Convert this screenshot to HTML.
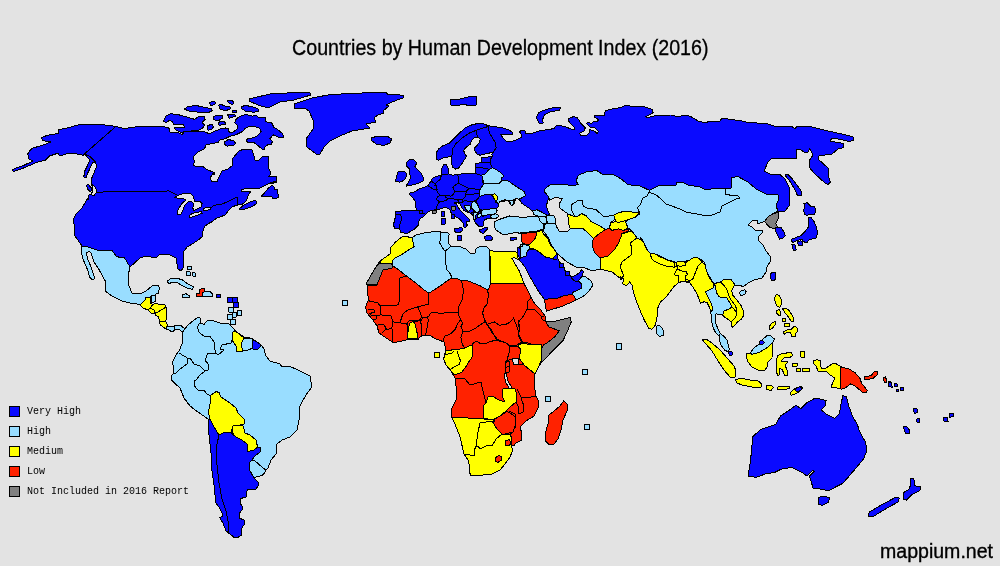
<!DOCTYPE html>
<html><head><meta charset="utf-8"><title>Countries by Human Development Index (2016)</title>
<style>
html,body{margin:0;padding:0;background:#e3e3e3;}
body{width:1000px;height:566px;overflow:hidden;position:relative;}
svg{position:absolute;left:0;top:0;display:block}
.map polygon,.map polyline{stroke:#000;stroke-width:1;stroke-linejoin:round;shape-rendering:crispEdges}
.ttl{font-family:"Liberation Sans",sans-serif;font-size:21.7px;fill:#000;stroke:#000;stroke-width:0.3px}
.lg{font-family:"Liberation Mono",monospace;font-size:10px;fill:#000;}
.site{font-family:"Liberation Sans",sans-serif;font-size:19.5px;fill:#000;stroke:#000;stroke-width:0.35px}
</style></head><body>
<svg width="1000" height="566" viewBox="0 0 1000 566">
<rect width="1000" height="566" fill="#e3e3e3"/>
<g class="map">
<polygon fill="#0a0aff" points="12.4,170.2 14.1,168.8 24.0,165.2 33.2,161.0 29.0,158.9 27.6,153.9 31.8,148.3 42.4,145.4 50.9,141.9 42.4,140.5 41.7,137.7 46.6,135.5 58.7,133.4 58.7,129.6 67.8,127.8 80.6,124.2 98.9,124.2 115.9,126.4 124.0,128.6 138.0,126.6 152.0,126.0 164.4,126.9 169.2,128.2 170.0,132.2 178.8,132.7 182.0,134.6 184.4,131.7 198.0,131.1 206.0,132.2 209.2,133.8 214.0,131.4 220.4,129.0 225.2,127.9 228.4,129.0 229.2,132.2 231.6,133.0 237.2,129.0 237.7,125.8 234.8,122.6 236.4,118.6 242.0,115.4 246.0,114.6 252.4,116.2 256.4,115.4 258.8,117.8 265.2,117.8 266.0,121.8 271.6,122.6 274.0,127.4 278.0,129.8 282.8,133.8 283.6,137.0 279.6,137.8 273.2,134.9 270.0,138.6 272.4,141.8 270.8,145.0 268.4,144.5 265.2,146.6 264.4,149.8 262.0,149.0 257.2,145.0 254.0,142.6 248.4,142.6 246.0,141.0 247.6,138.6 254.0,137.8 258.8,134.6 261.2,131.4 259.6,128.2 255.6,126.9 248.4,126.9 245.2,128.2 242.8,131.4 236.4,134.6 230.0,136.2 225.2,138.6 219.6,140.2 218.0,142.6 212.4,143.4 206.0,145.0 204.4,149.0 198.0,152.2 194.0,156.2 193.5,159.4 194.8,161.8 192.9,165.0 196.4,166.6 202.8,166.3 206.0,169.0 213.2,172.2 214.0,174.9 214.0,172.0 210.0,178.0 212.0,181.6 217.0,181.6 219.0,177.0 222.0,171.0 228.0,169.0 232.0,166.0 233.0,158.0 239.0,151.0 244.0,149.0 252.0,150.0 254.0,156.0 255.0,160.0 259.0,160.0 263.0,156.0 268.0,156.0 268.0,166.0 271.0,174.0 268.0,177.0 276.0,176.0 277.0,182.0 270.0,184.0 276.6,180.7 270.2,182.8 264.6,185.6 258.9,188.4 242.0,189.1 241.7,192.0 250.5,191.7 248.3,195.5 246.2,200.7 242.7,204.0 237.5,205.0 232.1,206.8 228.6,210.3 225.7,214.6 220.8,216.7 216.5,218.1 212.3,221.6 208.1,223.8 204.5,226.6 203.1,230.1 202.4,236.5 198.2,240.0 191.8,244.3 186.9,247.1 184.0,251.3 183.7,255.0 183.0,255.0 183.0,268.0 181.0,271.0 178.0,269.0 176.0,258.0 170.0,255.0 160.0,254.0 156.0,258.0 146.0,256.0 140.0,258.0 130.0,267.0 124.0,257.0 120.0,257.6 116.0,256.0 112.0,250.4 100.0,251.0 88.0,247.0 82.0,246.0 75.0,236.0 73.6,219.0 76.0,214.0 82.0,208.0 88.0,198.0 88.3,200.0 89.0,194.9 91.9,193.5 93.3,189.3 91.9,185.0 91.2,179.4 93.3,174.4 96.5,166.6 95.8,162.4 92.6,162.4 90.5,167.3 87.6,173.4 86.2,177.7 83.8,176.8 84.8,170.9 87.6,165.2 89.8,160.3 84.8,153.9 83.4,155.3 76.3,153.9 66.4,153.9 59.4,156.0 58.0,153.2 49.5,156.0 45.2,160.3 36.7,162.4 25.4,167.3 14.8,171.2 12.4,170.9"/>
<polyline fill="none" points="115.9,126.4 84.8,153.6 90.5,157.0 95.8,162.1"/>
<polygon fill="#0a0aff" points="86.5,185.3 88.3,184.3 91.2,187.8 91.9,190.7 89.8,191.4 87.6,189.3"/>
<polygon fill="#e3e3e3" points="91.6,183.9 95.8,187.8 96.7,192.1 94.0,195.6 90.7,194.6 92.6,191.4 92.6,187.8"/>
<polyline fill="none" points="96.8,192.1 168.0,191.0 167.8,190.5 174.1,193.4 177.7,195.5"/>
<polyline fill="none" points="210.9,207.8 213.7,205.4 222.2,204.0 230.7,200.4 234.9,197.9 237.5,197.3 237.5,204.7"/>
<polygon fill="#e3e3e3" points="174.8,197.3 179.1,194.8 185.4,193.1 190.4,193.1 193.2,196.2 194.6,201.1 199.6,201.1 202.1,203.3 201.0,206.8 197.5,208.9 193.9,210.3 192.8,208.2 193.6,204.0 191.8,201.6 188.3,201.9 184.7,205.4 182.6,211.0 180.5,214.6 177.7,214.9 177.7,211.0 179.8,206.8 182.6,202.6 186.1,200.2 183.3,198.3 178.4,198.3"/>
<polygon fill="#e3e3e3" points="189.7,215.3 192.5,213.2 201.0,211.7 202.4,213.2 198.9,214.6 191.8,217.1 189.7,217.1"/>
<polygon fill="#e3e3e3" points="203.1,208.9 207.3,207.2 210.6,207.2 210.9,208.9 207.3,210.3 203.5,211.0"/>
<polygon fill="#0a0aff" points="239.2,208.9 243.4,205.4 249.0,202.6 254.0,200.4 256.8,201.1 256.1,204.0 251.9,206.8 244.8,209.2 239.9,209.6"/>
<polygon fill="#0a0aff" points="261.1,196.2 264.6,192.7 268.8,187.7 271.7,185.6 273.8,186.3 274.5,189.1 277.3,189.8 278.0,194.1 278.4,197.9 272.4,198.3 271.7,196.2 267.4,196.2"/>
<polygon fill="#0a0aff" points="249.0,99.0 270.0,94.0 294.0,92.6 310.0,92.6 311.0,95.0 294.0,100.0 280.0,102.0 268.0,108.0 258.0,105.0 249.0,101.0"/>
<polygon fill="#0a0aff" points="224.4,141.8 228.4,139.4 234.0,141.0 235.6,143.4 233.2,145.5 226.8,146.1 224.4,144.2"/>
<polygon fill="#0a0aff" points="184.4,109.0 187.6,106.6 196.4,105.5 204.4,107.4 211.6,108.7 212.4,110.6 209.2,112.2 198.0,112.2 188.4,110.9"/>
<polygon fill="#0a0aff" points="163.6,121.0 166.0,116.2 170.8,113.8 178.0,114.6 186.8,117.0 194.8,119.4 198.0,117.0 204.4,116.7 205.2,119.4 202.0,122.6 204.4,125.0 202.8,127.9 198.0,130.6 183.6,131.4 182.0,133.0 175.6,129.8 174.0,127.9 184.4,127.4 183.6,125.0 174.0,124.7 172.4,121.5 169.2,120.5 166.0,122.6"/>
<polygon fill="#0a0aff" points="209.5,102.6 213.2,101.0 215.6,102.3 214.8,104.5 210.8,105.5"/>
<polygon fill="#0a0aff" points="227.1,100.7 232.4,100.2 233.5,102.6 232.9,104.5 229.2,103.4"/>
<polygon fill="#0a0aff" points="218.8,105.0 221.2,104.2 223.6,105.8 230.0,106.6 230.8,108.7 226.8,110.3 220.4,109.8"/>
<polygon fill="#0a0aff" points="232.4,110.3 236.7,110.3 236.7,112.5 232.4,112.5"/>
<polygon fill="#0a0aff" points="241.5,106.6 245.2,105.5 252.4,106.6 258.0,109.0 258.5,111.4 254.0,112.2 246.0,111.4 242.0,109.0"/>
<polygon fill="#0a0aff" points="213.2,116.2 222.0,115.4 222.8,117.8 218.8,120.5 214.0,119.9"/>
<polygon fill="#0a0aff" points="227.6,114.6 234.8,114.1 235.6,116.2 229.2,118.3"/>
<polygon fill="#0a0aff" points="218.5,122.1 224.9,121.5 225.2,124.2 219.1,125.3"/>
<polygon fill="#0a0aff" points="207.6,125.8 211.6,124.2 213.7,126.6 211.6,129.8 207.9,130.1"/>
<polygon fill="#0a0aff" points="294.0,104.0 312.0,98.0 330.0,94.6 352.0,93.4 372.0,92.6 386.0,92.6 388.0,94.6 400.0,95.0 400.0,95.0 404.0,96.0 403.0,98.0 400.0,98.6 400.0,99.0 392.0,102.0 386.0,105.0 389.0,106.0 383.0,111.0 384.0,113.0 378.0,115.0 374.0,118.0 376.0,122.0 366.0,124.0 370.0,128.0 352.0,131.0 340.0,136.0 330.0,141.0 324.0,147.0 320.0,154.0 316.0,154.0 307.0,147.0 306.0,139.0 313.0,129.0 314.0,122.0 309.0,111.0 306.0,109.0 294.0,108.0"/>
<polygon fill="#0a0aff" points="371.0,138.0 376.0,136.6 388.0,136.6 391.6,139.0 390.0,143.0 384.0,145.4 377.0,144.6 372.0,141.0"/>
<polygon fill="#99ddff" points="82.0,246.0 88.0,247.0 100.0,251.0 112.0,250.4 116.0,256.0 120.0,257.6 124.0,257.0 130.0,267.0 128.0,276.0 129.0,286.0 132.0,293.0 140.0,294.0 146.0,291.0 152.0,286.0 158.0,285.0 159.6,288.0 158.0,294.0 157.0,293.0 155.0,295.0 151.0,295.6 150.4,297.6 146.0,297.6 145.0,300.0 140.0,305.0 137.0,304.0 130.0,303.0 122.0,301.0 112.0,296.0 105.0,291.0 106.0,284.0 105.6,281.7 102.4,275.8 98.9,269.4 94.1,262.3 92.1,255.9 90.9,252.3 88.9,251.5 86.9,252.3 86.5,254.3 87.7,259.1 90.1,264.7 92.1,270.2 94.1,276.6 94.1,279.0 91.7,279.4 89.7,277.4 88.1,271.0 85.3,264.7 83.0,259.1 81.4,251.9 81.8,247.6"/>
<polygon fill="#99ddff" points="151.0,295.6 155.0,295.0 155.0,301.6 151.0,303.0"/>
<polygon fill="#ffff00" points="140.0,305.0 145.0,300.0 146.0,297.6 150.4,297.6 150.4,303.0 153.0,304.4 150.0,308.0 148.0,310.0 143.0,308.0"/>
<polygon fill="#ffff00" points="148.0,310.0 150.0,308.0 154.0,310.0 155.0,313.0 151.0,313.0"/>
<polygon fill="#ffff00" points="153.0,304.4 155.0,303.6 165.0,305.0 166.0,307.0 158.0,312.0 155.0,313.0 154.0,310.0 150.0,308.0"/>
<polygon fill="#ffff00" points="166.0,307.0 167.0,318.0 165.6,321.0 167.6,325.6 166.8,329.2 163.6,327.6 160.0,324.4 159.4,321.0 158.6,317.0 155.6,315.0 155.0,313.0 158.0,312.0"/>
<polyline fill="none" points="159.6,321.0 165.6,321.0"/>
<polygon fill="#99ddff" points="167.0,326.4 174.0,326.0 180.0,325.0 184.0,328.0 185.0,333.0 182.0,332.0 179.0,329.0 175.0,330.0 172.0,332.0 169.0,330.0 166.0,329.0"/>
<polyline fill="none" points="174.4,326.0 175.0,330.0"/>
<polygon fill="#99ddff" points="167.0,281.6 170.0,279.0 177.0,278.4 182.0,279.6 188.0,284.0 193.6,287.0 192.4,289.4 188.0,288.4 182.0,285.6 177.0,282.4 172.0,282.4 169.0,283.6"/>
<polygon fill="#99ddff" points="182.4,295.0 186.0,293.6 189.6,296.0 189.0,297.6 183.0,297.6"/>
<polygon fill="#ff2200" points="196.0,294.0 200.0,293.6 199.6,290.0 202.0,288.4 204.4,289.0 204.0,292.0 202.4,293.0 202.4,296.0 200.0,297.0 196.0,296.4"/>
<polygon fill="#99ddff" points="204.0,292.0 209.0,291.0 213.0,294.0 212.4,296.4 202.4,296.4 202.4,293.0"/>
<polygon fill="#0a0aff" points="216.4,294.0 220.6,294.0 220.6,297.4 216.4,297.4"/>
<polygon fill="#0a0aff" points="227.4,297.4 232.4,297.4 232.4,302.0 227.4,302.0"/>
<polygon fill="#0a0aff" points="232.4,297.4 237.6,297.4 237.6,302.0 232.4,302.0"/>
<polygon fill="#0a0aff" points="233.6,302.4 238.4,302.4 238.4,307.6 233.6,307.6"/>
<polygon fill="#99ddff" points="228.6,307.6 233.4,307.6 233.4,312.0 228.6,312.0"/>
<polygon fill="#99ddff" points="232.4,312.4 236.4,312.4 236.4,317.0 232.4,317.0"/>
<polygon fill="#99ddff" points="237.0,310.4 241.6,310.4 241.6,315.6 237.0,315.6"/>
<polygon fill="#99ddff" points="227.4,314.4 232.4,314.4 232.4,319.0 227.4,319.0"/>
<polygon fill="#99ddff" points="230.4,319.6 235.6,319.6 235.6,324.4 230.4,324.4"/>
<polygon fill="#99ddff" points="187.0,267.0 191.6,266.4 192.0,269.0 188.0,269.6"/>
<polygon fill="#99ddff" points="186.0,272.0 190.0,271.6 191.0,275.0 187.0,275.6"/>
<polygon fill="#99ddff" points="192.4,272.4 195.0,273.0 195.6,276.0 193.0,276.0"/>
<polygon fill="#99ddff" points="342.4,300.4 347.6,300.4 347.6,305.6 342.4,305.6"/>
<polygon fill="#99ddff" points="182.0,333.0 185.0,329.0 188.0,325.0 194.0,320.0 198.0,317.6 200.0,318.0 200.0,323.0 204.0,324.4 208.0,320.0 214.0,321.0 220.0,323.0 228.0,323.0 233.0,328.0 236.0,331.6 244.0,337.0 252.0,338.4 260.0,344.0 262.0,346.0 264.0,349.0 266.0,356.0 270.0,361.0 280.0,364.0 282.0,367.0 290.0,366.4 300.0,371.0 310.0,376.0 312.0,387.0 308.0,392.0 303.0,400.0 300.0,406.0 299.0,420.0 297.0,430.0 290.0,437.0 282.0,440.0 277.0,444.0 276.0,454.0 271.0,460.0 268.0,468.0 265.6,470.0 265.0,472.4 262.0,475.6 256.0,477.0 254.0,478.0 258.0,482.0 259.0,485.0 256.0,489.0 247.0,490.0 247.0,491.0 246.0,497.0 240.4,498.6 240.0,503.0 242.4,506.6 242.0,510.0 239.6,513.0 239.0,518.0 244.0,520.0 244.4,524.0 242.0,528.0 241.0,532.0 241.6,535.0 238.0,537.4 234.0,537.4 230.0,534.0 226.0,531.0 223.0,523.0 219.6,517.4 222.0,516.6 222.0,513.0 219.0,507.0 215.0,502.0 215.0,495.0 214.0,485.0 212.0,471.0 211.0,453.0 209.6,440.0 208.0,426.0 208.0,419.0 198.0,412.0 190.0,406.0 184.0,398.0 180.0,388.0 172.0,380.0 177.0,386.0 172.0,381.0 171.0,376.0 174.0,373.0 173.6,368.0 172.4,362.0 176.0,355.0 179.0,351.0 182.0,344.0"/>
<polyline fill="none" points="199.6,323.0 197.6,327.0 199.0,332.4 204.0,336.0 210.0,336.4 214.0,342.0 215.0,350.0 216.0,353.0 208.0,353.0 205.0,360.0 208.0,364.0 208.0,370.0 205.0,371.0"/>
<polyline fill="none" points="216.0,353.0 218.0,355.0 224.0,350.0 220.0,349.0 222.0,345.0 231.0,343.0 233.0,338.0"/>
<polyline fill="none" points="179.0,353.0 184.0,356.0 188.0,358.4 187.0,364.0 180.0,369.0 176.0,373.0 174.0,373.0"/>
<polyline fill="none" points="188.0,358.4 190.0,358.0 194.0,364.0 200.0,366.0 205.0,371.0 200.0,375.0 196.0,380.0 195.0,380.0 194.4,386.0 198.0,390.0 204.0,390.4 207.0,394.0 210.0,395.6"/>
<polygon fill="#ffff00" points="233.0,332.0 236.0,331.6 244.0,338.0 241.0,344.0 243.0,351.0 237.0,351.6 236.0,346.0 232.0,340.0"/>
<polygon fill="#99ddff" points="244.0,338.0 252.0,339.0 253.0,348.0 248.0,350.0 243.0,351.0 241.0,344.0"/>
<polygon fill="#0a0aff" points="252.0,339.0 260.0,344.0 261.0,346.0 257.0,350.0 253.0,349.0"/>
<polygon fill="#ffff00" points="210.0,395.6 216.0,391.6 219.0,392.4 221.0,397.0 230.0,403.0 236.0,408.0 238.0,413.0 245.0,420.0 244.4,424.0 238.0,425.6 233.0,426.0 231.0,433.0 224.0,432.4 219.0,435.0 214.0,427.0 210.0,419.0 208.4,412.0 210.0,404.0"/>
<polygon fill="#ffff00" points="233.0,426.0 238.0,425.6 243.0,425.6 245.0,433.0 250.0,435.0 256.0,440.0 257.6,447.0 254.0,450.0 248.0,451.6 247.0,444.0 242.0,440.0 236.0,437.0 232.0,432.4"/>
<polygon fill="#0a0aff" points="219.0,435.0 224.0,432.4 231.0,433.0 236.0,437.0 242.0,440.0 247.0,444.0 248.0,451.6 254.0,450.0 257.6,447.0 260.4,448.0 260.0,452.0 255.0,456.0 252.0,460.0 250.0,462.0 249.6,470.0 254.0,478.0 258.0,482.0 259.0,485.0 256.0,489.0 247.0,490.0 247.0,491.0 246.0,497.0 240.4,498.6 240.0,503.0 242.4,506.6 242.0,510.0 239.6,513.0 239.0,518.0 244.0,520.0 244.4,524.0 242.0,528.0 241.0,532.0 241.6,535.0 238.0,537.4 234.0,537.4 230.0,534.0 228.4,532.0 228.0,521.0 226.0,511.0 222.0,499.0 219.0,483.0 217.0,465.0 216.0,453.0 216.0,456.0 217.0,444.0"/>
<polygon fill="#0a0aff" points="208.0,419.0 210.0,419.0 214.0,427.0 219.0,435.0 217.0,444.0 216.0,456.0 216.0,453.0 217.0,465.0 219.0,483.0 222.0,499.0 226.0,511.0 228.0,521.0 228.4,532.0 230.0,534.0 226.0,531.0 223.0,523.0 219.6,517.4 222.0,516.6 222.0,513.0 219.0,507.0 215.0,502.0 215.0,495.0 214.0,485.0 212.0,471.0 211.0,453.0 209.6,440.0 208.0,426.0"/>
<polygon fill="#99ddff" points="252.0,460.0 255.0,461.0 262.0,467.0 265.6,470.0 265.0,472.4 262.0,475.6 256.0,477.0 254.0,478.0 249.6,470.0 250.0,462.0"/>
<polygon fill="#0a0aff" points="488.3,125.8 492.5,126.4 502.1,127.6 509.3,130.0 512.3,132.4 512.3,134.8 508.1,134.8 500.9,134.8 503.3,138.4 506.9,142.0 514.1,140.8 519.5,138.4 521.9,137.2 521.3,134.2 519.5,131.8 521.3,130.4 524.9,130.6 525.5,133.6 530.9,133.6 538.1,131.2 554.0,128.6 556.4,125.4 563.6,126.2 570.0,128.6 574.0,129.9 574.8,127.8 569.2,122.2 568.4,119.0 573.2,116.6 577.2,117.4 581.2,123.8 585.2,127.8 584.4,131.0 579.6,133.4 581.2,135.8 586.0,135.8 589.2,132.6 589.2,129.4 594.0,131.0 597.2,133.4 598.5,131.5 594.8,127.8 590.0,127.0 586.8,123.8 587.6,122.2 591.6,123.8 593.2,121.4 597.2,121.4 598.8,119.8 594.8,117.4 594.8,115.5 600.4,115.8 604.4,115.5 605.2,111.0 610.0,109.4 619.6,107.8 626.0,105.4 634.0,106.5 645.2,107.0 652.4,109.4 653.2,112.6 646.0,116.6 646.8,117.7 656.4,115.5 670.8,115.0 677.2,116.6 683.6,115.5 690.0,116.1 691.0,116.6 698.0,121.0 706.0,123.0 709.0,121.0 720.0,121.0 722.0,118.0 730.0,119.4 740.0,120.6 748.0,122.6 766.0,123.4 774.0,126.0 792.0,126.6 795.0,129.0 797.0,126.0 800.0,126.0 800.0,126.0 812.0,127.0 830.0,131.4 846.0,135.0 853.0,136.6 853.6,140.6 849.0,141.4 840.0,139.4 832.0,138.0 830.0,141.0 843.0,143.4 844.0,147.4 838.0,149.0 832.0,154.0 819.0,156.0 818.0,159.0 828.0,168.0 829.0,178.0 830.4,182.0 828.0,184.6 825.0,183.0 814.0,173.0 809.0,167.0 809.0,161.0 813.0,155.0 810.0,148.6 808.0,152.0 804.0,152.0 800.0,149.4 800.0,149.0 796.0,150.0 797.0,158.0 772.0,158.0 768.0,162.0 764.0,171.0 770.0,174.0 780.0,174.6 785.0,179.0 790.0,189.0 789.0,198.0 789.0,198.0 789.0,206.0 785.0,211.0 781.0,212.0 777.0,211.0 776.0,206.0 779.0,198.0 779.0,198.0 778.0,194.6 768.0,195.0 756.0,189.0 748.0,182.0 738.0,176.6 732.0,177.4 731.0,188.0 725.0,188.6 716.0,188.0 706.0,190.0 700.0,187.0 688.0,185.0 684.0,183.0 677.0,182.0 676.0,185.0 658.0,186.0 649.0,190.6 649.6,190.4 639.2,185.6 628.0,184.8 621.6,179.2 613.6,174.7 602.4,174.4 596.8,170.4 586.4,172.0 578.4,175.2 576.0,180.8 578.4,184.8 570.4,185.6 564.0,184.0 551.2,184.0 544.0,189.6 544.0,191.2 548.0,196.0 548.0,200.0 546.4,205.6 548.0,211.2 549.6,214.4 547.2,215.2 541.6,212.0 536.8,209.6 532.8,211.2 528.8,208.0 521.6,203.2 519.2,199.2 525.3,196.0 524.8,192.0 516.0,186.4 508.0,180.8 501.6,180.8 500.3,183.0 502.1,181.1 501.5,178.1 503.9,176.3 500.9,172.7 495.5,169.1 492.5,167.9 490.1,163.0 490.1,160.0 492.2,156.8 491.9,154.6 493.1,152.2 496.1,148.0 495.5,143.2 492.5,137.8 490.1,134.2 488.9,130.6"/>
<polygon fill="#0a0aff" points="536.4,117.4 538.8,112.6 546.0,109.4 556.4,107.0 560.4,107.8 559.6,110.2 550.8,111.8 544.4,115.0 542.8,119.0 543.1,123.0 538.8,123.0"/>
<polygon fill="#0a0aff" points="450.0,100.0 460.0,99.0 468.0,97.0 476.4,96.6 476.0,105.0 469.0,106.0 464.0,104.0 456.0,106.0 451.0,105.0"/>
<polygon fill="#0a0aff" points="785.3,174.6 787.7,174.0 792.5,179.1 797.2,185.4 801.2,191.0 801.7,195.8 797.6,195.8 794.8,189.4 790.1,181.5 786.1,176.7"/>
<polygon fill="#0a0aff" points="436.6,159.4 436.0,153.4 438.4,149.2 442.0,146.2 449.2,143.2 456.4,136.0 464.8,128.2 470.8,125.2 478.0,123.4 482.9,123.6 487.1,125.2 488.3,125.8 486.5,127.0 476.8,130.0 469.6,133.0 462.4,137.8 455.8,143.8 452.8,148.6 452.2,154.6 451.0,156.4 448.0,157.0 442.0,158.2 438.4,160.4"/>
<polygon fill="#0a0aff" points="452.2,154.6 452.8,148.6 455.8,143.8 462.4,137.8 469.6,133.0 476.2,130.6 477.4,137.2 474.4,137.8 471.4,140.8 470.2,144.4 466.0,147.4 463.6,150.4 464.8,153.4 466.6,156.4 464.2,160.0 462.4,163.0 458.8,167.9 455.2,169.1 452.2,166.7 451.6,161.8 451.0,156.4"/>
<polygon fill="#0a0aff" points="476.8,130.0 486.5,127.0 488.3,125.8 488.9,130.6 490.1,134.2 492.5,137.8 495.5,143.2 496.1,148.0 493.1,152.2 487.7,153.4 480.5,155.2 477.4,154.6 475.0,151.0 474.4,148.0 477.4,145.0 479.8,142.0 480.2,139.0 477.4,137.2 476.2,130.6"/>
<polygon fill="#0a0aff" points="481.7,157.3 492.2,156.8 490.1,160.0 490.1,163.0 481.7,162.4 481.1,160.0"/>
<polygon fill="#0a0aff" points="475.6,163.6 481.7,162.4 490.1,163.0 492.5,167.9 488.9,169.3 482.9,167.9 475.0,166.9"/>
<polygon fill="#0a0aff" points="475.0,167.9 482.9,167.9 488.9,169.3 485.3,173.9 481.7,175.7 475.0,173.3"/>
<polygon fill="#0a0aff" points="442.0,167.9 443.8,164.8 446.2,164.2 448.0,167.9 449.0,173.9 442.0,174.5 441.4,171.5"/>
<polygon fill="#0a0aff" points="409.0,193.2 413.2,192.6 419.2,189.0 425.8,186.6 427.6,185.4 431.2,181.2 432.4,178.2 438.4,175.8 441.4,175.2 442.6,174.6 448.6,174.0 452.9,175.2 457.7,174.6 464.9,173.4 474.5,174.0 475.0,173.3 481.7,175.7 485.3,173.9 482.3,177.5 482.9,183.0 484.1,183.6 479.9,189.6 479.3,193.2 479.9,196.2 484.1,195.0 491.3,194.4 494.9,199.8 496.1,202.2 497.9,203.4 498.5,206.4 496.1,208.8 492.5,209.4 486.5,211.2 481.7,210.0 479.9,209.4 480.5,212.4 481.7,213.6 482.3,216.7 485.2,215.4 490.0,214.2 490.8,216.2 490.4,218.2 487.6,218.6 484.4,219.8 483.2,222.6 483.2,225.8 481.2,227.0 478.0,225.8 475.2,222.6 474.0,219.8 473.6,217.4 473.2,215.8 471.2,213.6 466.6,211.8 463.4,209.9 461.8,207.6 460.2,204.4 457.6,202.4 454.4,203.0 456.6,204.1 458.0,207.2 460.4,210.5 463.6,213.7 466.6,216.4 469.2,219.2 469.6,221.8 467.2,221.0 466.0,222.6 467.2,225.0 466.4,227.0 464.0,227.0 463.6,224.2 461.2,220.6 458.0,217.8 454.8,216.6 451.6,213.8 450.0,211.8 451.7,213.0 449.8,209.4 446.2,207.6 442.0,208.2 438.4,210.0 436.0,209.4 432.4,210.6 428.8,211.2 425.8,214.2 424.0,216.2 419.2,219.4 418.4,225.0 414.4,229.0 406.4,233.8 400.8,232.2 399.2,228.2 394.4,228.7 393.6,224.2 395.2,217.8 395.2,213.0 396.0,211.4 405.6,210.6 415.2,210.6 416.2,210.0 415.6,202.2 413.2,198.0 410.2,195.6"/>
<polyline fill="none" points="416.2,210.0 419.8,211.2 422.8,213.0 425.8,214.2"/>
<polyline fill="none" points="396.0,214.6 400.8,214.9 401.6,219.4 400.0,224.2 399.2,228.2"/>
<polyline fill="none" points="427.6,185.4 431.2,187.8 434.2,189.6 436.6,190.2 438.4,193.8 440.2,195.0 437.2,197.4 436.6,199.8 439.6,201.6 437.2,205.8 436.0,209.4"/>
<polyline fill="none" points="431.2,181.2 434.2,183.0 436.0,186.0 437.2,189.6 434.2,189.6"/>
<polyline fill="none" points="434.2,186.0 436.6,185.7"/>
<polyline fill="none" points="434.2,183.0 436.0,183.0 440.2,179.4 441.4,175.2"/>
<polyline fill="none" points="440.2,195.0 442.6,195.0 445.6,195.0 450.5,196.2 453.5,194.4 454.7,191.4 452.9,187.8 454.1,186.0 458.3,183.0 458.9,179.4 457.7,174.6"/>
<polyline fill="none" points="458.3,183.0 461.3,184.8 464.9,186.6 469.1,188.4 474.5,189.0 479.9,189.6"/>
<polyline fill="none" points="454.7,191.4 457.7,191.4 462.5,192.0 466.7,190.8 469.1,188.4"/>
<polyline fill="none" points="466.7,190.8 465.5,194.4 469.7,195.0 474.5,193.8 479.3,193.2"/>
<polyline fill="none" points="445.6,195.0 445.6,197.4 448.0,198.6 446.2,200.4 442.0,201.6 439.6,201.6"/>
<polyline fill="none" points="448.0,198.6 451.7,198.0 454.7,199.2 457.7,199.8 462.5,199.8 464.9,197.4 465.5,194.4"/>
<polyline fill="none" points="457.7,199.8 458.9,202.2 463.1,202.2 462.5,199.8"/>
<polyline fill="none" points="463.1,202.2 464.9,199.8 468.5,201.6 472.1,201.6 476.9,199.8 479.9,196.2"/>
<polyline fill="none" points="472.1,201.6 476.9,201.6 476.9,199.8"/>
<polygon fill="#99ddff" points="464.0,205.4 469.2,205.0 471.0,207.0 470.0,209.8 468.4,211.8 466.0,209.4"/>
<polygon fill="#99ddff" points="471.0,203.8 473.2,201.8 476.4,202.2 478.0,205.4 479.2,208.6 480.0,211.0 478.0,212.2 478.4,213.8 476.8,214.2 475.6,212.2 473.2,209.8 471.6,207.8"/>
<polygon fill="#99ddff" points="473.2,213.8 474.0,212.2 476.8,212.2 477.2,213.8 475.6,215.8 475.4,219.0 474.0,219.8 473.6,217.4"/>
<polygon fill="#99ddff" points="477.2,215.8 479.2,213.0 481.6,213.4 482.0,215.4 479.6,217.4 477.6,217.8"/>
<polygon fill="#99ddff" points="480.8,210.6 483.6,209.8 490.0,209.0 496.0,208.2 497.2,211.0 496.0,213.0 493.2,214.2 490.0,214.2 485.2,215.4 482.0,215.0 481.6,213.0"/>
<polygon fill="#99ddff" points="490.8,216.2 493.2,214.2 496.0,213.8 498.0,215.0 498.0,217.0 494.8,219.0 491.6,218.2"/>
<polygon fill="#0a0aff" points="479.2,229.4 482.0,229.0 484.8,227.4 487.6,227.4 487.2,229.4 485.2,231.4 483.6,233.4 481.2,232.6 479.6,231.0"/>
<polyline fill="none" points="470.0,209.8 471.6,208.6 473.2,210.2 473.2,212.2 471.2,213.0"/>
<polyline fill="none" points="475.4,219.0 477.2,218.0 479.6,217.4"/>
<polyline fill="none" points="475.6,212.2 478.0,212.2"/>
<polygon fill="#99ddff" points="488.9,169.3 492.5,167.9 495.5,169.1 500.9,172.7 503.9,176.3 501.5,178.1 502.1,181.1 500.3,183.0 499.7,183.0 492.5,183.0 486.5,183.0 484.1,183.6 482.9,179.4 481.7,175.2 485.3,173.9"/>
<polygon fill="#99ddff" points="484.1,183.6 486.5,183.0 492.5,183.0 499.7,183.0 501.6,180.8 508.0,180.8 516.0,186.4 524.8,192.0 525.3,196.0 519.2,199.2 516.0,198.4 514.4,203.2 511.2,205.6 508.0,200.8 503.2,200.0 500.0,201.6 515.3,199.8 513.5,202.2 512.9,205.8 510.5,204.6 509.9,201.0 504.5,199.8 500.9,201.0 498.5,203.4 496.1,202.2 497.1,199.8 497.3,196.2 494.9,193.8 491.9,194.4 484.1,195.0 479.9,196.2 479.3,193.2 479.9,189.6"/>
<polygon fill="#ffff00" points="491.9,194.4 494.9,193.8 497.3,196.2 497.1,199.8 495.9,202.2 494.9,199.8"/>
<polygon fill="#0a0aff" points="406.0,163.0 409.2,159.8 414.0,159.8 417.2,163.0 414.8,166.2 418.0,170.2 421.2,173.4 423.6,178.2 422.8,181.4 417.2,183.8 410.8,185.4 406.0,186.2 408.4,182.2 410.8,177.4 409.2,172.6 410.0,169.4 406.8,166.2"/>
<polygon fill="#0a0aff" points="395.6,181.4 396.4,176.6 398.0,171.8 402.8,171.0 406.0,172.6 406.0,177.4 403.6,180.6 399.6,182.2"/>
<polygon fill="#0a0aff" points="419.8,210.6 422.6,210.6 422.6,213.6 419.8,213.6"/>
<polygon fill="#808080" points="432.4,210.4 436.0,210.4 436.0,213.0 432.4,213.0"/>
<polygon fill="#808080" points="451.9,206.4 455.3,206.4 455.3,210.0 451.9,210.0"/>
<polygon fill="#0a0aff" points="451.1,214.5 454.7,214.5 454.7,218.5 451.1,218.5"/>
<polygon fill="#0a0aff" points="441.4,211.8 444.7,211.8 444.7,216.1 441.4,216.1"/>
<polygon fill="#0a0aff" points="441.8,218.5 445.0,218.1 445.6,223.9 442.0,224.5"/>
<polygon fill="#0a0aff" points="454.4,228.6 457.2,229.0 460.4,227.4 462.4,228.2 462.0,231.0 459.6,232.6 455.6,232.2 454.2,230.6"/>
<polygon fill="#0a0aff" points="457.4,235.4 461.6,235.4 461.6,240.0 457.4,240.0"/>
<polygon fill="#0a0aff" points="484.4,236.6 487.6,235.4 491.6,236.2 492.8,238.6 491.6,240.0 485.2,240.0"/>
<polygon fill="#0a0aff" points="510.0,238.0 516.0,237.0 517.0,239.6 511.0,240.4"/>
<polygon fill="#99ddff" points="649.0,190.6 658.0,186.0 676.0,185.0 677.0,182.0 684.0,183.0 688.0,185.0 700.0,187.0 706.0,190.0 716.0,188.0 725.0,188.6 731.0,188.0 732.0,177.4 738.0,176.6 748.0,182.0 756.0,189.0 768.0,195.0 778.0,194.6 779.0,198.0 779.0,198.0 776.0,206.0 778.0,211.0 772.0,214.0 765.0,221.0 758.0,224.0 757.0,220.0 753.0,220.0 748.0,225.0 752.0,227.0 755.0,230.0 762.0,230.0 762.0,233.0 758.0,237.0 758.0,240.0 763.0,245.0 766.0,251.0 770.0,256.0 770.0,262.0 767.0,267.0 766.0,272.0 762.0,278.0 754.0,280.0 748.0,283.0 743.0,287.0 740.0,285.0 735.0,286.0 734.0,283.0 730.0,280.0 724.0,280.0 720.0,282.0 714.0,284.0 709.0,276.0 705.0,270.0 706.0,267.0 704.0,262.0 700.0,259.0 694.0,257.6 689.0,260.4 684.0,261.6 677.0,262.0 675.0,262.0 668.0,260.0 658.0,255.0 651.0,254.0 648.0,251.0 643.0,241.0 637.0,238.0 632.0,231.0 628.0,228.0 625.0,223.0 630.0,217.0 640.0,214.0 638.0,209.0 637.0,204.0 641.0,201.0 642.0,198.0 649.6,190.4"/>
<polygon fill="#99ddff" points="544.0,189.6 551.2,184.0 564.0,184.0 570.4,185.6 578.4,184.8 576.0,180.8 578.4,175.2 586.4,172.0 596.8,170.4 602.4,174.4 613.6,174.7 621.6,179.2 628.0,184.8 639.2,185.6 649.6,190.4 647.2,196.0 642.4,198.4 640.8,204.0 637.6,207.2 639.2,212.8 624.8,211.2 618.4,212.8 613.6,215.2 604.0,216.8 596.0,209.6 587.2,208.0 583.2,206.4 582.4,200.8 577.6,200.8 571.2,204.8 572.0,211.2 575.2,216.8 568.8,214.4 564.0,211.2 560.0,208.0 559.2,204.0 562.4,198.4 555.2,197.6 549.6,200.0 548.0,196.0 544.0,191.2"/>
<polygon fill="#99ddff" points="571.2,204.8 577.6,200.8 582.4,200.8 583.2,206.4 587.2,208.0 596.0,209.6 604.0,216.8 613.6,215.2 615.2,219.2 612.0,221.6 610.4,223.2 609.6,228.0 605.6,229.6 599.2,225.6 591.2,221.6 586.4,216.0 581.6,213.6 576.8,216.8 575.2,216.8 572.0,211.2"/>
<polygon fill="#ffff00" points="567.2,214.4 568.8,214.4 575.2,216.8 576.8,216.8 581.6,213.6 586.4,216.0 591.2,221.6 599.2,225.6 605.6,229.6 599.2,233.6 593.6,238.4 589.6,234.4 583.2,228.8 576.8,228.0 570.4,228.8 568.8,224.0 568.8,220.0"/>
<polygon fill="#ffff00" points="613.6,215.2 618.4,212.8 624.8,211.2 639.2,212.8 636.0,216.8 629.6,219.2 624.8,220.8 618.4,222.4 615.2,221.6 615.2,219.2"/>
<polygon fill="#ffff00" points="610.4,223.2 615.2,221.6 618.4,222.4 624.8,220.8 626.4,224.0 628.0,228.0 623.2,230.4 618.4,228.8 612.0,230.4 609.6,228.0"/>
<polyline fill="none" points="725.0,188.6 726.0,194.6 738.0,196.0 740.0,198.0 738.0,198.0 730.0,202.0 722.0,206.0 720.0,212.0 712.0,215.0 702.0,215.0 686.0,212.0 680.0,209.0 666.0,204.0 660.0,198.0 660.0,198.0 656.0,195.0 649.0,192.0"/>
<polygon fill="#99ddff" points="739.5,292.3 741.6,290.5 745.1,289.8 746.3,291.9 744.4,294.7 740.6,295.4"/>
<polygon fill="#0a0aff" points="770.6,274.0 772.7,272.1 775.5,272.5 775.9,277.1 774.5,281.0 772.0,280.6 770.3,277.8"/>
<polygon fill="#808080" points="764.6,221.2 768.6,216.4 774.2,213.3 778.2,212.5 779.0,216.4 777.4,220.4 775.8,223.6 777.4,226.8 774.2,228.4 770.2,227.6 767.0,224.4"/>
<polygon fill="#0a0aff" points="775.0,228.4 778.2,227.1 781.3,227.6 783.7,231.5 785.3,235.5 782.9,238.2 779.7,239.2 777.4,234.7 775.8,231.5"/>
<polygon fill="#0a0aff" points="808.0,217.6 810.7,217.2 813.9,221.2 816.3,226.8 817.6,233.1 816.3,237.9 811.5,239.2 808.4,240.3 807.6,242.4 803.6,241.9 802.0,239.5 797.2,240.3 792.5,242.7 791.2,239.5 795.6,237.6 801.2,235.5 805.2,231.5 808.4,226.8 808.7,222.0"/>
<polygon fill="#0a0aff" points="791.7,244.3 794.8,244.3 796.4,250.0 793.3,250.0"/>
<polygon fill="#0a0aff" points="803.6,203.2 807.6,202.9 810.7,206.1 814.7,206.9 816.0,210.1 814.7,214.1 810.0,214.4 806.8,215.6 804.4,214.1 803.6,210.1 804.9,206.9"/>
<polygon fill="#0a0aff" points="797.2,241.9 800.4,240.8 802.8,241.9 802.3,245.1 798.8,245.9"/>
<polygon fill="#99ddff" points="500.0,219.2 509.6,216.0 524.0,217.6 532.0,216.0 538.4,216.8 540.0,220.8 543.2,224.0 544.0,228.8 536.8,231.2 520.8,232.8 519.2,233.9 518.0,232.0 508.0,234.0 502.0,234.0 496.0,230.0 494.0,226.0 494.0,222.0"/>
<polygon fill="#99ddff" points="532.8,211.2 536.8,209.6 541.6,212.0 547.2,215.2 546.4,216.0 538.4,216.0 533.6,214.4"/>
<polygon fill="#99ddff" points="538.4,216.8 545.6,216.0 547.2,222.4 543.2,224.0 540.0,220.8"/>
<polygon fill="#99ddff" points="546.4,216.0 549.6,215.2 554.4,216.0 556.0,220.8 555.2,223.2 548.0,223.2 547.2,222.4"/>
<polygon fill="#99ddff" points="544.0,228.8 544.8,224.8 548.0,223.2 555.2,223.2 556.8,227.2 559.2,231.2 568.0,231.2 570.4,228.8 576.8,228.0 583.2,228.8 589.6,234.4 593.6,238.4 592.0,243.2 592.0,246.0 595.0,253.0 600.0,258.0 600.0,258.0 600.0,269.0 592.0,271.0 583.0,267.0 576.0,267.0 567.0,262.0 560.0,256.0 556.0,252.0 551.2,244.8 548.8,238.4 544.8,232.8 542.4,229.6"/>
<polygon fill="#ff2200" points="593.6,238.4 599.2,233.6 605.6,229.6 609.6,228.0 612.0,230.4 618.4,228.8 623.2,230.4 628.8,228.8 628.0,231.2 621.6,233.6 622.0,234.0 619.0,242.0 615.0,249.0 608.0,256.0 600.0,258.0 595.0,253.0 592.0,246.0 592.0,243.2"/>
<polygon fill="#ffff00" points="629.6,231.6 632.0,231.0 637.0,238.0 630.0,243.0 632.0,248.0 631.0,255.0 622.0,262.0 620.0,267.0 624.0,276.0 620.0,278.0 612.0,272.0 600.0,269.0 600.0,258.0 608.0,256.0 615.0,249.0 619.0,242.0 622.0,234.0"/>
<polygon fill="#ffff00" points="637.0,238.0 643.0,241.0 640.0,237.0 644.2,243.4 646.4,249.0 650.6,254.0 654.1,253.3 659.8,256.8 668.3,260.3 674.6,262.5 676.7,262.0 682.4,261.5 685.9,262.9 688.1,261.0 693.7,257.5 698.0,257.8 702.2,262.0 698.0,266.0 695.8,271.6 693.0,278.7 690.2,280.4 688.8,281.5 688.1,283.0 685.2,281.8 681.0,281.8 678.2,283.0 673.9,286.5 670.4,291.4 665.4,297.8 661.2,301.3 659.1,305.0 660.8,301.2 657.6,308.4 656.8,319.6 655.2,325.2 652.0,329.2 648.8,328.4 644.0,319.6 639.2,308.4 634.4,295.6 632.0,285.2 629.6,282.0 626.4,286.0 622.4,283.6 624.0,278.8 620.0,276.4 621.0,280.0 624.0,276.0 620.0,267.0 622.0,262.0 631.0,255.0 632.0,248.0 630.0,243.0"/>
<polyline fill="none" points="650.6,254.0 651.3,258.2 654.1,261.0 659.8,263.9 668.3,266.7 674.2,267.1 674.6,262.5"/>
<polyline fill="none" points="676.7,262.5 677.0,265.7 681.0,266.3 685.2,265.3 685.9,262.9"/>
<polyline fill="none" points="677.0,265.7 677.0,269.1 678.9,269.5 680.3,270.9 686.6,271.4 687.3,274.8 685.2,275.9 685.5,280.8 688.1,281.5 687.3,283.0"/>
<polyline fill="none" points="678.9,282.2 678.4,275.9 674.6,274.8 675.1,272.3 677.0,269.1"/>
<polyline fill="none" points="674.2,267.1 677.0,266.0"/>
<polyline fill="none" points="685.5,279.4 688.1,280.1 690.2,280.4"/>
<polygon fill="#99ddff" points="656.8,326.0 659.2,325.2 661.6,327.6 664.0,331.6 663.2,335.6 659.2,336.4 656.8,334.0 656.0,329.2"/>
<polygon fill="#ffff00" points="702.2,262.0 705.0,265.3 706.4,270.9 709.3,277.3 713.5,283.7 714.2,286.5 713.3,287.7 705.5,291.9 707.7,296.1 709.8,300.4 711.9,304.6 712.3,310.3 710.9,311.7 709.1,306.7 707.0,302.5 704.1,301.8 700.6,303.2 697.2,294.3 694.4,289.3 691.6,285.1 688.8,281.5 690.2,280.4 693.0,278.7 695.8,271.6 698.0,266.0"/>
<polygon fill="#99ddff" points="705.5,291.9 713.3,287.7 714.7,284.1 716.9,293.3 719.0,296.9 726.7,297.6 729.6,302.5 731.7,306.7 729.6,309.6 723.9,311.0 722.8,315.2 720.4,314.5 716.1,313.8 715.2,318.1 716.1,324.4 718.3,329.4 720.4,333.6 723.9,336.4 727.0,340.0 728.2,344.9 729.3,349.2 728.2,351.3 725.3,350.8 721.8,346.3 720.4,343.5 719.0,339.3 719.0,335.7 715.4,332.2 713.3,328.0 711.9,322.3 711.2,316.6 710.9,311.7 712.3,310.3 711.9,304.6 709.8,300.4 707.7,296.1"/>
<polyline fill="none" points="719.0,335.7 720.4,333.6 723.9,336.4"/>
<polygon fill="#ffff00" points="722.8,315.2 723.9,311.0 729.6,308.9 732.4,307.0 735.9,309.6 736.6,313.8 735.2,318.1 731.0,321.6 728.2,319.5 724.6,317.3"/>
<polygon fill="#ffff00" points="714.7,284.1 718.3,282.0 720.4,282.0 723.9,285.5 726.7,289.1 728.2,294.0 731.0,299.7 735.2,305.3 736.6,308.9 735.5,311.0 731.7,306.7 729.6,302.5 726.7,297.6 719.0,296.9 716.9,293.3"/>
<polygon fill="#ffff00" points="720.4,282.0 723.2,279.9 731.0,279.6 733.1,282.0 734.5,285.5 733.1,287.7 731.7,290.5 732.4,294.7 736.6,299.7 740.9,305.3 743.0,310.3 743.4,315.9 741.6,318.8 737.3,322.3 734.5,325.8 732.4,327.2 731.0,324.4 731.0,321.6 735.2,318.1 736.6,313.8 736.6,308.9 735.2,305.3 731.0,299.7 728.2,294.0 726.7,289.1 723.9,285.5"/>
<polygon fill="#0a0aff" points="728.6,351.6 732.0,351.6 732.4,355.0 729.4,355.6"/>
<polygon fill="#ffff00" points="702.4,340.0 706.0,339.0 712.0,343.0 720.0,350.0 728.0,359.0 734.0,366.0 736.0,371.0 735.0,377.0 730.0,377.0 724.0,370.0 718.0,361.0 712.0,351.0 706.0,344.0"/>
<polygon fill="#ffff00" points="735.6,380.0 740.0,378.0 750.0,380.0 758.0,381.0 762.0,384.0 761.0,387.0 752.0,387.0 742.0,385.0 737.0,383.0"/>
<polygon fill="#ffff00" points="766.4,386.0 771.0,385.0 773.6,387.6 771.0,390.4 767.0,389.6"/>
<polygon fill="#ffff00" points="777.6,387.0 789.0,386.0 789.6,388.4 782.0,390.0 777.6,389.6"/>
<polygon fill="#ffff00" points="790.4,392.8 793.6,389.6 797.6,387.2 801.6,386.4 802.7,388.5 800.0,391.2 795.2,393.9 791.2,395.2"/>
<polygon fill="#0a0aff" points="795.7,388.8 799.5,386.9 802.1,387.2 801.6,389.6 798.4,391.2 796.0,391.2"/>
<polygon fill="#ffff00" points="746.6,353.0 750.0,353.0 752.0,354.4 760.0,352.0 768.0,347.0 772.0,343.0 772.4,349.0 772.0,358.0 768.0,362.0 767.0,367.0 765.0,370.0 758.0,370.0 752.0,367.0 748.0,362.0 746.4,357.0"/>
<polygon fill="#99ddff" points="750.0,353.0 754.0,348.0 759.0,344.0 763.0,339.0 767.0,335.6 771.0,336.0 774.4,339.0 773.0,342.0 772.0,343.0 768.0,347.0 760.0,352.0 752.0,354.4"/>
<polygon fill="#0a0aff" points="759.0,341.6 762.4,340.0 764.4,342.4 762.0,345.0 759.4,344.4"/>
<polygon fill="#ffff00" points="776.4,360.0 778.0,355.6 782.0,353.6 791.0,352.4 793.0,355.0 790.0,357.6 784.0,358.0 781.0,361.0 786.0,361.0 788.0,362.4 785.0,365.0 787.0,370.0 787.6,375.6 785.0,376.0 782.4,370.0 780.0,368.0 779.6,374.0 778.0,376.0 776.4,372.0"/>
<polygon fill="#ffff00" points="774.5,297.6 776.2,294.7 779.0,295.2 781.2,299.0 781.6,303.9 779.8,307.5 776.9,306.0 775.1,301.8"/>
<polygon fill="#ffff00" points="776.5,311.0 779.0,309.6 780.7,312.1 780.5,315.2 777.3,314.9"/>
<polygon fill="#ffff00" points="782.6,308.9 786.1,308.2 789.6,311.0 792.5,315.9 793.9,318.8 793.5,321.2 791.1,321.2 788.2,316.6 784.7,312.4"/>
<polygon fill="#ffff00" points="782.2,318.8 785.7,318.8 785.7,321.4 782.2,321.4"/>
<polygon fill="#ffff00" points="784.4,323.7 789.5,323.7 789.5,326.3 784.4,326.3"/>
<polygon fill="#ffff00" points="769.4,326.5 771.7,323.0 775.5,321.2 775.9,323.4 773.4,327.2 770.8,329.4 769.2,329.1"/>
<polygon fill="#ffff00" points="783.3,332.2 786.1,330.1 791.1,329.4 793.9,326.5 796.7,327.2 797.7,330.8 795.7,333.6 795.3,336.4 791.8,336.7 790.6,332.9 787.5,332.2 784.0,334.3"/>
<polygon fill="#ffff00" points="800.4,352.0 804.4,351.0 805.0,357.0 802.0,358.0 800.4,356.0"/>
<polygon fill="#ffff00" points="792.0,363.0 797.0,363.0 797.0,366.0 792.0,366.0"/>
<polygon fill="#ffff00" points="796.0,368.4 800.6,368.4 800.6,371.6 796.0,371.6"/>
<polygon fill="#ffff00" points="802.0,368.0 809.6,368.0 809.6,371.6 802.0,371.6"/>
<polygon fill="#ffff00" points="813.6,361.0 817.0,359.6 821.0,361.0 820.0,365.0 822.0,369.0 826.0,368.0 832.0,364.0 836.0,363.6 841.4,367.0 840.4,389.0 837.0,388.0 831.0,387.0 833.0,382.0 835.0,378.0 830.0,375.0 826.0,371.0 818.0,371.0 816.0,366.0 814.0,364.0"/>
<polygon fill="#ff2200" points="840.8,367.2 848.8,368.8 855.2,372.8 860.0,378.4 861.6,383.2 867.2,390.4 866.4,392.8 863.2,392.8 858.4,388.8 854.4,385.6 850.4,384.0 847.2,386.4 844.0,388.8 840.8,389.1"/>
<polygon fill="#ff2200" points="864.4,377.0 871.0,375.6 875.0,371.0 877.6,371.0 877.0,375.0 873.0,378.4 867.0,379.6 864.4,379.0"/>
<polygon fill="#ff2200" points="883.0,377.6 885.6,377.0 887.0,382.0 884.4,382.4"/>
<polygon fill="#0a0aff" points="888.0,381.0 890.0,381.0 890.0,386.0 888.4,385.6"/>
<polygon fill="#0a0aff" points="748.0,476.1 750.4,461.7 751.6,449.7 752.8,436.5 761.2,429.2 775.6,424.4 780.5,416.0 787.7,411.2 796.1,405.2 800.9,408.8 806.9,402.8 815.3,398.0 826.1,400.4 824.9,406.4 821.3,410.0 827.3,414.8 834.5,418.4 839.3,413.6 841.0,404.0 842.9,395.6 846.5,396.8 848.9,406.4 852.5,416.0 857.3,424.4 859.7,431.7 865.7,442.5 866.9,450.9 863.3,459.3 857.3,466.5 850.1,474.9 842.9,483.3 835.7,486.9 828.5,491.0 822.5,489.3 812.9,488.1 811.7,483.3 809.3,476.1 814.1,471.3 812.9,470.1 806.9,476.1 802.1,472.5 792.5,467.7 782.9,468.4 774.4,472.5 766.0,473.7 756.4,477.3"/>
<polygon fill="#0a0aff" points="818.4,497.2 824.9,496.5 829.7,497.7 828.5,502.0 822.5,505.4 818.9,504.4"/>
<polygon fill="#0a0aff" points="910.2,478.0 913.8,478.0 914.5,485.7 921.0,486.9 919.8,490.5 912.6,494.1 906.6,500.1 903.5,499.6 903.0,492.9 909.0,489.3 910.7,484.5"/>
<polygon fill="#0a0aff" points="895.8,497.2 899.4,498.2 898.2,502.0 886.2,508.5 874.1,516.0 868.1,516.0 869.3,512.1 881.4,504.9"/>
<polygon fill="#0a0aff" points="903.5,426.8 906.6,426.1 909.7,430.5 909.0,434.1 905.4,433.3"/>
<polygon fill="#0a0aff" points="913.3,408.8 916.9,408.3 917.9,412.4 914.5,413.6"/>
<polygon fill="#0a0aff" points="916.9,418.9 919.8,418.9 919.8,422.0 916.9,422.0"/>
<polygon fill="#0a0aff" points="943.3,418.0 947.4,417.2 948.1,421.3 944.3,422.0"/>
<polygon fill="#0a0aff" points="949.1,413.6 952.9,413.2 953.9,416.5 949.8,417.2"/>
<polygon fill="#0a0aff" points="888.6,381.9 891.4,382.9 892.2,387.2 889.0,386.7"/>
<polygon fill="#0a0aff" points="894.6,383.6 897.0,383.6 897.0,386.5 894.6,386.5"/>
<polygon fill="#0a0aff" points="896.2,389.1 898.9,389.1 898.9,391.5 896.2,391.5"/>
<polygon fill="#0a0aff" points="900.1,387.2 903.7,387.2 903.7,390.8 900.1,390.8"/>
<polygon fill="#0a0aff" points="518.9,259.6 521.0,257.8 525.9,256.1 527.3,251.1 529.5,249.0 534.4,249.0 540.8,253.3 546.4,257.8 552.8,258.2 557.0,254.0 557.5,258.2 559.2,261.7 563.4,264.6 564.8,270.2 569.8,273.8 570.5,276.6 574.0,280.8 578.9,281.5 581.8,284.4 581.1,288.6 573.3,292.1 571.9,294.3 563.4,295.7 557.0,298.5 544.3,299.2 539.4,292.8 534.4,284.4 529.5,275.9 525.2,267.4 521.0,261.7"/>
<polygon fill="#0a0aff" points="570.5,276.6 574.7,275.9 578.9,273.1 581.8,269.5 583.2,271.6 582.5,275.9 578.9,280.1 578.9,281.5 574.0,280.8"/>
<polygon fill="#99ddff" points="582.5,275.9 585.3,276.6 591.7,281.5 592.4,285.8 588.8,291.4 583.2,296.4 576.1,299.9 574.0,295.7 571.9,294.3 573.3,292.1 581.1,288.6 581.8,284.4 578.9,281.5 578.9,280.1"/>
<polygon fill="#ff2200" points="544.3,299.2 557.0,298.5 563.4,295.7 571.9,294.3 574.0,295.7 576.1,299.9 570.5,302.7 562.0,306.3 550.7,309.8 546.4,311.2 545.3,305.0"/>
<polygon fill="#0a0aff" points="552.8,258.2 557.0,254.0 557.5,258.2 556.3,259.6 553.5,259.6"/>
<polygon fill="#0a0aff" points="559.4,263.9 563.4,263.9 563.4,267.4 559.4,267.4"/>
<polygon fill="#0a0aff" points="565.5,271.6 569.3,271.6 569.3,275.6 565.5,275.6"/>
<polygon fill="#ffff00" points="536.5,232.1 541.5,230.4 544.3,234.9 548.6,239.1 549.3,243.4 555.6,251.1 557.0,254.0 552.8,258.2 546.4,257.8 540.8,253.3 534.4,249.0 529.5,248.3 528.8,245.5 531.6,242.7 535.8,237.7"/>
<polygon fill="#ff2200" points="521.0,233.5 528.8,232.8 536.5,232.1 535.8,237.7 531.6,242.7 528.8,244.8 522.4,243.4 521.3,239.1"/>
<polygon fill="#0a0aff" points="517.0,248.3 519.6,246.9 520.3,250.4 521.0,255.4 519.6,258.2 517.9,255.4 517.0,251.9"/>
<polygon fill="#99ddff" points="520.3,246.2 522.4,244.1 528.8,245.5 529.5,248.3 527.3,251.1 525.9,256.1 521.0,257.8 520.3,251.1"/>
<polygon fill="#99ddff" points="520.0,244.8 522.4,243.7 523.1,246.2 520.7,247.3"/>
<polygon fill="#ff2200" points="367.0,284.9 368.4,299.9 365.6,306.9 367.0,312.9 372.0,318.9 377.0,325.9 379.0,332.9 386.0,337.9 392.9,342.3 397.9,341.9 406.9,339.9 417.9,339.5 420.9,335.9 429.9,335.5 435.9,338.9 443.9,341.9 445.9,348.9 444.0,342.4 446.0,349.0 443.6,359.0 446.0,365.0 451.0,371.0 455.0,378.0 456.0,386.0 456.0,400.0 451.6,409.0 451.6,417.0 455.0,424.0 460.0,437.0 464.0,454.0 468.0,460.0 470.0,467.0 469.0,471.0 471.0,476.0 477.0,475.6 492.0,474.0 500.0,470.0 505.0,464.0 510.0,457.0 512.4,451.0 511.6,445.0 514.0,445.6 516.0,443.0 521.6,440.0 522.0,432.0 520.0,429.0 521.0,426.0 526.0,421.0 534.0,416.0 538.0,408.0 538.0,400.0 536.0,396.0 534.0,384.0 535.0,374.0 538.0,368.0 541.0,363.0 548.0,356.0 558.0,346.0 564.0,338.0 568.0,328.0 570.0,320.0 571.2,322.0 570.4,317.2 564.8,318.8 553.6,321.5 545.6,321.2 545.9,319.6 544.8,315.6 540.8,310.0 535.2,304.4 531.2,298.0 528.0,290.8 524.0,283.6 523.8,283.0 519.6,271.6 514.6,263.2 511.8,258.2 514.6,257.8 518.2,259.6 517.5,252.6 515.3,251.9 508.3,251.1 498.4,251.9 489.9,250.4 489.4,249.7 486.9,246.9 480.5,246.1 476.3,248.3 474.9,253.9 471.3,253.9 465.7,249.0 458.6,246.1 450.8,246.1 448.7,243.3 448.0,238.4 449.4,234.1 446.6,232.0 440.9,232.0 434.6,231.6 425.4,232.7 416.2,234.8 412.0,237.7 404.9,236.3 401.4,237.2 395.0,242.6 397.9,240.0 391.0,247.0 390.0,254.0 380.0,261.0 376.0,267.0 371.0,275.0 366.4,283.5"/>
<polygon fill="#ffff00" points="397.9,240.0 391.0,247.0 390.0,254.0 380.0,261.0 380.0,263.0 391.9,263.6 392.9,266.0 393.0,260.0 395.0,258.2 400.7,255.3 407.7,250.4 414.1,246.9 412.0,237.7 404.9,236.3 401.4,237.2 395.0,242.6"/>
<polygon fill="#808080" points="380.0,263.0 391.9,263.6 392.3,268.0 383.0,270.0 380.0,277.0 377.0,284.9 367.0,284.9 366.4,283.5 371.0,275.0 376.0,267.0"/>
<polygon fill="#99ddff" points="404.9,236.3 412.0,237.7 416.2,234.8 425.4,232.7 434.6,231.6 440.9,232.0 440.9,238.4 439.5,242.6 442.3,247.6 445.2,251.4 445.6,262.4 446.6,269.5 450.8,274.4 451.5,278.0 447.3,280.8 437.4,287.8 428.9,293.2 423.3,289.3 414.8,282.2 407.0,276.5 399.2,270.2 392.9,266.0 393.0,260.0 395.0,258.2 400.7,255.3 407.7,250.4 414.1,246.9 412.0,237.7"/>
<polygon fill="#99ddff" points="440.9,232.0 446.6,232.0 449.4,234.1 448.0,238.4 448.7,243.3 450.8,246.1 445.2,251.4 442.3,247.6 439.5,242.6 440.9,238.4"/>
<polygon fill="#99ddff" points="450.8,246.1 458.6,246.1 465.7,249.0 471.3,253.9 474.9,253.9 476.3,248.3 480.5,246.1 486.9,246.9 489.4,249.7 490.4,283.6 488.3,290.0 479.8,285.7 471.3,282.2 465.7,280.1 461.4,280.8 457.2,278.7 451.5,278.0 450.8,274.4 446.6,269.5 445.6,262.4 445.2,251.4"/>
<polygon fill="#ffff00" points="489.9,250.4 498.4,251.9 508.3,251.1 515.3,251.9 517.5,252.6 518.2,259.6 514.6,257.8 511.8,258.2 514.6,263.2 519.6,271.6 523.8,283.0 490.6,283.2"/>
<polyline fill="none" points="368.4,285.5 377.0,285.5"/>
<polyline fill="none" points="405.9,276.0 399.9,278.0 398.9,304.9 380.0,305.9 378.0,302.9 369.0,300.9"/>
<polyline fill="none" points="380.0,305.9 381.0,314.9 376.0,315.9 370.0,314.9"/>
<polyline fill="none" points="368.0,309.9 374.0,309.9 375.0,312.3 369.0,313.5"/>
<polyline fill="none" points="376.0,315.9 377.0,318.9 372.0,319.5"/>
<polyline fill="none" points="381.0,314.9 391.0,315.9 392.9,321.9 391.9,327.9 387.0,329.9 384.0,324.9 380.0,323.9 377.0,325.9"/>
<polyline fill="none" points="384.0,324.9 386.0,328.9 382.0,332.9"/>
<polyline fill="none" points="386.0,328.9 387.0,329.9"/>
<polyline fill="none" points="391.9,327.9 392.9,334.9 392.9,341.9"/>
<polyline fill="none" points="392.9,321.9 399.9,322.9 406.9,323.9 407.9,329.9 406.9,339.9"/>
<polyline fill="none" points="399.9,322.9 402.9,313.9 407.9,309.9 413.9,307.9 417.9,306.9 428.9,303.9 428.9,292.9"/>
<polyline fill="none" points="417.9,306.9 421.9,316.9 419.9,319.9 415.9,320.9 408.9,320.9 406.9,323.9"/>
<polyline fill="none" points="428.3,316.9 430.4,313.3 433.9,311.9 439.6,313.3 450.9,312.6 458.0,312.3 458.7,307.0 462.2,299.9 463.6,290.0 461.4,280.8"/>
<polyline fill="none" points="458.0,312.3 459.4,316.9 460.8,319.7 458.0,323.2 455.1,329.6 450.9,333.8 445.2,335.9 443.1,339.5 443.1,342.3"/>
<polyline fill="none" points="460.8,319.7 462.9,323.2 460.8,326.0 462.9,331.7 460.8,337.3 462.2,344.4 465.0,348.0"/>
<polyline fill="none" points="462.9,331.7 467.8,331.7 473.5,329.6 480.6,324.6 484.8,321.8 484.1,318.3 482.7,312.6 484.1,307.7 487.6,303.4 488.3,294.2 487.6,290.0 488.3,290.0"/>
<polyline fill="none" points="484.8,321.8 487.6,325.3 491.9,332.4 497.5,339.5 490.5,341.6 484.8,343.7 480.6,343.7 477.0,341.6 473.5,342.3 472.1,345.8"/>
<polygon fill="#ffff00" points="445.9,351.1 453.7,349.6 458.0,349.4 465.0,348.2 469.3,345.8 472.1,345.8 472.8,352.2 472.1,357.1 468.6,362.1 467.0,365.0 462.0,372.0 455.0,375.0 451.0,371.0 446.0,365.0 443.6,359.0 444.5,356.4"/>
<polyline fill="none" points="445.9,354.3 451.6,353.6 454.4,350.8"/>
<polyline fill="none" points="457.2,351.1 458.7,356.4 460.5,360.7 459.4,364.2 453.7,367.0 450.0,370.0"/>
<polygon fill="#ffff00" points="407.1,338.8 408.5,328.2 409.9,323.2 413.4,321.4 415.3,324.6 417.0,332.4 417.7,338.1"/>
<polyline fill="none" points="415.3,321.4 419.8,320.4 421.2,323.9 421.5,336.6"/>
<polyline fill="none" points="421.2,320.4 422.6,317.6 427.6,316.9 428.3,320.4 426.9,328.2 425.4,335.9"/>
<polyline fill="none" points="413.4,321.4 415.3,321.4 421.2,320.4"/>
<polyline fill="none" points="487.2,324.4 494.4,322.0 499.2,325.2 505.6,324.4 510.4,322.0 513.6,318.0 517.6,328.4 519.2,321.2 523.2,316.4 527.2,309.2 527.2,302.0 531.2,298.0"/>
<polyline fill="none" points="527.2,309.2 535.2,310.0 540.8,315.6 542.4,319.6 545.6,321.2"/>
<polyline fill="none" points="542.4,316.4 544.8,315.6"/>
<polyline fill="none" points="517.6,328.4 519.2,335.6 522.4,342.0 519.2,343.6 516.8,345.2 509.6,345.2 504.0,342.0 496.8,340.4 492.0,330.8 487.2,324.4 484.0,318.0 482.4,313.2"/>
<polygon fill="#808080" points="545.6,321.2 553.6,321.5 564.8,318.8 570.4,317.2 571.2,322.0 567.2,331.6 563.2,340.4 556.8,346.8 550.4,353.2 548.0,356.0 541.0,363.0 541.0,350.0 544.0,344.0 544.0,344.4 547.2,342.8 555.2,336.4 559.2,330.8 548.8,326.8"/>
<polyline fill="none" points="522.4,342.0 527.2,342.8 532.8,344.4 541.6,345.2"/>
<polygon fill="#ffff00" points="434.4,352.4 439.4,352.4 439.4,357.4 434.4,357.4"/>
<polyline fill="none" points="497.4,339.4 508.0,344.0 510.0,347.0 509.0,353.0 507.0,360.0 505.0,365.0 505.0,373.0 507.0,382.0 510.0,388.0 503.0,389.0 502.0,396.0 505.0,402.0 499.0,400.0 492.0,396.0 488.0,397.0 486.0,403.0 483.0,391.0 481.0,382.0 470.0,385.0 465.0,379.0 455.0,378.0"/>
<polyline fill="none" points="510.0,347.0 518.0,346.0 522.0,343.0 518.0,335.0 520.0,328.0 518.0,320.0"/>
<polyline fill="none" points="507.0,360.0 509.0,360.0 513.0,359.0"/>
<polyline fill="none" points="505.0,362.0 509.0,361.0 510.0,367.0 509.0,372.0 505.0,372.4"/>
<polyline fill="none" points="505.2,367.2 509.8,366.8"/>
<polygon fill="#ffff00" points="518.0,346.0 522.0,343.0 532.0,345.0 542.0,344.4 541.0,361.0 538.0,368.0 535.0,374.0 524.0,365.0 519.0,358.0 521.0,350.0"/>
<polygon fill="#e3e3e3" points="512.0,359.0 518.0,358.0 519.0,364.0 514.0,365.0"/>
<polygon fill="#e3e3e3" points="504.0,373.0 506.0,373.0 508.0,381.0 512.0,388.0 510.0,389.6 505.6,382.0"/>
<polyline fill="none" points="519.0,364.0 524.0,365.0"/>
<polyline fill="none" points="509.0,372.0 506.0,373.0"/>
<polyline fill="none" points="521.0,397.0 526.0,398.0 536.0,396.0"/>
<polygon fill="#ffff00" points="486.0,403.0 488.0,397.0 492.0,396.0 499.0,400.0 505.0,402.0 502.0,396.0 503.0,389.0 510.0,388.0 515.0,389.0 517.0,395.0 516.0,402.0 510.0,407.0 506.0,411.0 500.0,416.0 494.0,419.0 488.0,419.0 484.0,418.0 483.0,406.0"/>
<polyline fill="none" points="517.0,389.0 521.0,397.0 521.6,400.0 524.0,406.0 523.0,412.0 519.0,414.0 518.0,406.0 516.0,402.0"/>
<polyline fill="none" points="509.0,411.0 515.0,414.0 516.0,420.0 515.0,428.0"/>
<polygon fill="#ffff00" points="451.6,417.0 484.0,419.0 493.0,420.0 495.0,421.0 480.0,423.0 478.0,432.0 476.0,446.0 474.4,450.0 474.0,456.0 470.0,455.0 464.0,454.0 460.0,437.0 455.0,424.0"/>
<polygon fill="#ffff00" points="480.0,423.0 492.0,421.0 497.0,429.0 502.0,434.0 496.0,439.0 492.0,446.0 488.0,445.0 480.0,449.0 478.0,446.0 476.0,446.0 478.0,432.0"/>
<polygon fill="#ffff00" points="464.0,454.0 470.0,455.0 474.0,456.0 474.4,450.0 476.0,446.0 478.0,446.0 480.0,449.0 488.0,445.0 492.0,446.0 496.0,439.0 502.0,434.0 505.0,434.0 510.0,434.0 512.0,439.0 511.6,445.0 512.4,451.0 510.0,457.0 505.0,464.0 500.0,470.0 492.0,474.0 477.0,475.6 471.0,476.0 469.0,471.0 470.0,467.0 468.0,460.0"/>
<polyline fill="none" points="493.0,420.0 500.0,416.0 507.0,411.6 510.0,413.0 515.6,417.0 515.0,426.0 513.0,432.0 505.0,434.0"/>
<polyline fill="none" points="513.0,432.0 510.0,434.0"/>
<polygon fill="#ff2200" points="505.0,441.0 509.0,439.6 511.0,443.0 509.0,446.0 505.6,445.6"/>
<polygon fill="#ff2200" points="495.0,458.0 499.0,455.6 502.0,457.0 501.6,460.0 498.0,462.4 495.0,461.0"/>
<polygon fill="#ff2200" points="563.6,401.0 567.0,404.0 567.4,410.0 563.0,420.0 561.0,430.0 558.0,439.0 554.0,444.0 549.0,444.4 545.6,441.0 545.6,432.0 548.0,424.0 549.0,415.0 554.0,411.0 560.0,406.0"/>
<polygon fill="#99ddff" points="584.4,424.0 589.6,424.0 589.6,429.6 584.4,429.6"/>
<polygon fill="#99ddff" points="616.4,344.0 621.6,344.0 621.6,349.6 616.4,349.6"/>
<polygon fill="#99ddff" points="582.4,369.4 587.6,369.4 587.6,374.6 582.4,374.6"/>
<polygon fill="#99ddff" points="545.6,396.0 550.6,396.0 550.6,401.4 545.6,401.4"/>
<polygon fill="#99ddff" points="616.0,343.9 621.6,343.9 621.6,349.7 616.0,349.7"/>
</g>
<text x="292" y="55.3" class="ttl" textLength="416.5" lengthAdjust="spacingAndGlyphs">Countries by Human Development Index (2016)</text>
<rect x="9.5" y="406.5" width="10" height="10" fill="#0a0aff" stroke="#000" stroke-width="1"/>
<text x="27" y="414.0" class="lg">Very High</text>
<rect x="9.5" y="426.5" width="10" height="10" fill="#99ddff" stroke="#000" stroke-width="1"/>
<text x="27" y="434.0" class="lg">High</text>
<rect x="9.5" y="446.5" width="10" height="10" fill="#ffff00" stroke="#000" stroke-width="1"/>
<text x="27" y="454.0" class="lg">Medium</text>
<rect x="9.5" y="466.5" width="10" height="10" fill="#ff2200" stroke="#000" stroke-width="1"/>
<text x="27" y="474.0" class="lg">Low</text>
<rect x="9.5" y="486.5" width="10" height="10" fill="#808080" stroke="#000" stroke-width="1"/>
<text x="27" y="494.0" class="lg">Not Included in 2016 Report</text>

<text x="880" y="557.5" class="site" textLength="113" lengthAdjust="spacingAndGlyphs">mappium.net</text>
</svg>
</body></html>
